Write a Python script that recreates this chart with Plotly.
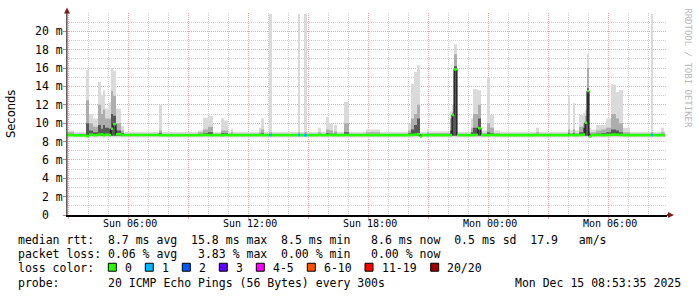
import plotly.graph_objects as go

# ---------------- data ----------------
times = [
    "2025-12-14 02:56", "2025-12-14 03:17", "2025-12-14 03:53", "2025-12-14 04:02",
    "2025-12-14 04:14", "2025-12-14 04:29", "2025-12-14 04:38", "2025-12-14 04:44",
    "2025-12-14 04:50", "2025-12-14 05:02", "2025-12-14 05:08", "2025-12-14 05:14",
    "2025-12-14 05:23", "2025-12-14 05:38", "2025-12-14 05:47", "2025-12-14 07:32",
    "2025-12-14 07:41", "2025-12-14 09:29", "2025-12-14 09:44", "2025-12-14 09:59",
    "2025-12-14 10:14", "2025-12-14 10:38", "2025-12-14 10:47", "2025-12-14 10:59",
    "2025-12-14 11:08", "2025-12-14 11:14", "2025-12-14 12:32", "2025-12-14 12:38",
    "2025-12-14 12:47", "2025-12-14 13:02", "2025-12-14 13:11", "2025-12-14 14:29",
    "2025-12-14 14:35", "2025-12-14 14:47", "2025-12-14 14:56", "2025-12-14 15:29",
    "2025-12-14 15:38", "2025-12-14 15:53", "2025-12-14 16:02", "2025-12-14 16:14",
    "2025-12-14 16:17", "2025-12-14 16:26", "2025-12-14 16:47", "2025-12-14 17:02",
    "2025-12-14 17:53", "2025-12-14 18:35", "2025-12-14 19:59", "2025-12-14 20:08",
    "2025-12-14 20:17", "2025-12-14 20:26", "2025-12-14 20:35", "2025-12-14 20:41",
    "2025-12-14 20:56", "2025-12-14 21:02", "2025-12-14 22:05", "2025-12-14 22:11",
    "2025-12-14 22:17", "2025-12-14 22:26", "2025-12-14 23:08", "2025-12-14 23:14",
    "2025-12-14 23:29", "2025-12-14 23:38", "2025-12-14 23:56", "2025-12-15 00:05",
    "2025-12-15 00:17", "2025-12-15 00:35", "2025-12-15 02:23", "2025-12-15 02:32",
    "2025-12-15 03:59", "2025-12-15 04:05", "2025-12-15 04:14", "2025-12-15 04:20",
    "2025-12-15 04:32", "2025-12-15 04:44", "2025-12-15 04:50", "2025-12-15 04:56",
    "2025-12-15 05:02", "2025-12-15 05:08", "2025-12-15 05:23", "2025-12-15 05:38",
    "2025-12-15 05:53", "2025-12-15 06:08", "2025-12-15 06:23", "2025-12-15 06:32",
    "2025-12-15 06:44", "2025-12-15 07:05", "2025-12-15 08:08", "2025-12-15 08:14",
    "2025-12-15 08:38", "2025-12-15 08:47",
]
end_time = "2025-12-15 08:50"

smoke_max = [
    9.2, 9.0, 15.8, 11.0, 10.5, 14.5, 13.1, 13.6, 11.6, 12.3, 16.0, 15.7,
    11.6, 9.7, 9.0, 12.0, 9.0, 9.2, 10.6, 10.8, 9.0, 10.5, 10.3, 9.0,
    9.4, 9.0, 9.5, 10.5, 9.0, 21.9, 9.0, 21.9, 9.0, 21.9, 9.0, 9.5,
    9.0, 10.7, 10.0, 9.0, 9.8, 9.0, 12.3, 9.0, 9.3, 9.0, 9.9, 14.3,
    15.6, 16.3, 9.0, 9.0, 9.3, 9.1, 11.3, 12.0, 18.6, 9.0, 10.5, 13.7,
    13.6, 9.2, 15.0, 10.9, 9.2, 9.0, 9.5, 9.0, 13.0, 9.2, 12.2, 9.2,
    10.9, 11.1, 11.5, 17.5, 9.5, 9.3, 9.8, 9.8, 10.5, 14.2, 13.4, 13.6,
    9.5, 9.0, 21.9, 9.0, 9.5, 9.1,
]
smoke_mid = [
    9.0, 8.85, 12.5, 10.0, 9.6, 12.0, 11.0, 11.5, 10.5, 10.5, 13.5, 13.0,
    10.0, 9.2, 8.85, 9.2, 8.85, 9.0, 9.3, 9.6, 8.85, 9.2, 9.2, 8.85,
    9.0, 8.85, 9.0, 9.3, 8.85, 9.0, 8.85, 9.0, 8.85, 9.0, 8.85, 9.0,
    8.85, 9.3, 9.2, 8.85, 9.1, 8.85, 10.0, 8.85, 9.0, 8.85, 9.2, 10.5,
    11.0, 12.0, 8.85, 8.85, 9.0, 8.9, 10.5, 11.2, 17.5, 8.85, 9.5, 11.0,
    12.0, 8.9, 10.0, 9.5, 8.9, 8.85, 9.0, 8.85, 9.3, 8.9, 9.3, 8.9,
    9.6, 10.0, 10.8, 16.0, 9.0, 9.0, 9.2, 9.3, 9.5, 11.0, 10.5, 10.0,
    9.0, 8.85, 9.0, 8.85, 9.0, 8.9,
]
smoke_dark = [
    8.8, 8.75, 10.0, 9.2, 9.0, 9.8, 9.4, 9.8, 9.5, 9.4, 11.0, 10.8,
    9.2, 8.9, 8.75, 8.9, 8.75, 8.8, 8.9, 9.0, 8.75, 8.9, 8.9, 8.75,
    8.8, 8.75, 8.8, 8.9, 8.75, 8.8, 8.75, 8.8, 8.75, 8.8, 8.75, 8.8,
    8.75, 8.9, 8.85, 8.75, 8.85, 8.75, 9.0, 8.75, 8.8, 8.75, 8.9, 9.3,
    9.8, 10.5, 8.75, 8.75, 8.8, 8.75, 9.2, 11.0, 16.2, 8.75, 9.0, 9.5,
    10.5, 8.8, 9.0, 8.9, 8.8, 8.75, 8.8, 8.75, 8.9, 8.8, 8.9, 8.8,
    9.0, 9.5, 10.2, 13.8, 8.8, 8.8, 8.85, 8.9, 9.0, 9.3, 9.2, 9.0,
    8.8, 8.75, 8.8, 8.75, 8.8, 8.75,
]
smoke_min = [8.45] * len(times)   # lower edge of the light smoke
smoke_lo = [8.62] * len(times)    # lower edge of the denser smoke
median = [
    8.70, 8.68, 8.60, 8.75, 8.70, 8.75, 8.80, 8.70, 8.75, 8.70, 9.40, 9.90,
    8.80, 8.70, 8.72, 8.70, 8.68, 8.70, 8.72, 8.70, 8.70, 8.68, 8.72, 8.70,
    8.70, 8.70, 8.72, 8.70, 8.70, 8.70, 8.70, 8.70, 8.70, 8.68, 8.70, 8.72,
    8.70, 8.70, 8.72, 8.70, 8.70, 8.70, 8.72, 8.70, 8.70, 8.70, 8.70, 8.72,
    8.75, 8.80, 8.55, 8.70, 8.70, 8.70, 8.70, 10.90, 15.85, 8.70, 8.70, 8.72,
    9.45, 8.70, 8.70, 8.72, 8.70, 8.70, 8.70, 8.70, 8.70, 8.72, 8.70, 8.70,
    8.72, 8.75, 10.06, 13.50, 8.55, 8.70, 8.72, 8.70, 8.72, 8.75, 8.75, 8.72,
    8.70, 8.70, 8.70, 8.70, 8.70, 8.70,
]
loss = [0] * len(times)
for _t in ("2025-12-14 13:02", "2025-12-14 14:29", "2025-12-14 14:47", "2025-12-15 08:08"):
    loss[times.index(_t)] = 1

x_tickvals = ["2025-12-14 03:00", "2025-12-14 06:00", "2025-12-14 09:00", "2025-12-14 12:00",
              "2025-12-14 15:00", "2025-12-14 18:00", "2025-12-14 21:00", "2025-12-15 00:00",
              "2025-12-15 03:00", "2025-12-15 06:00"]
x_ticktext = ["", "Sun 06:00", "", "Sun 12:00", "", "Sun 18:00", "", "Mon 00:00", "", "Mon 06:00"]
y_tickvals = [0, 2, 4, 6, 8, 10, 12, 14, 16, 18, 20]
y_ticktext = ["0  ", "2 m", "4 m", "6 m", "8 m", "10 m", "12 m", "14 m", "16 m", "18 m", "20 m"]

legend_rows = [
    "median rtt:  8.7 ms avg  15.8 ms max  8.5 ms min   8.6 ms now  0.5 ms sd  17.9   am/s",
    "packet loss: 0.06 % avg   3.83 % max  0.00 % min   0.00 % now",
    "loss color:",
    "probe:       20 ICMP Echo Pings (56 Bytes) every 300s",
]
timestamp = "Mon Dec 15 08:53:35 2025"
loss_labels = ["0", "1", "2", "3", "4-5", "6-10", "11-19", "20/20"]
loss_colors = ["#26ff00", "#00b8ff", "#0059ff", "#5e00ff", "#ff00ff", "#ff5500", "#ff0000", "#a10000"]

# ---------------- figure ----------------
W, H = 697, 297
ML, MR, MT, MB = 67, 30, 12.5, 81.5
PW, PH = W - ML - MR, H - MT - MB
MONO = "DejaVu Sans Mono"
FS = 11.5


def PX(px):
    return (px - ML) / PW


def PY(py):
    return (H - MB - py) / PH


xs = times + [end_time]


def ext(v):
    return list(v) + [v[-1]]


fig = go.Figure()

# smoke layers (lower bound trace, then filled upper trace)
for lower, upper, col in ((smoke_min, smoke_max, "#dadada"),
                          (smoke_lo, smoke_mid, "#adadad"),
                          (smoke_lo, smoke_dark, "#585858")):
    fig.add_trace(go.Scatter(x=xs, y=ext(lower), mode="lines", line=dict(width=0, shape="hv"),
                             hoverinfo="skip", showlegend=False))
    fig.add_trace(go.Scatter(x=xs, y=ext(upper), mode="lines", line=dict(width=0, shape="hv"),
                             fill="tonexty", fillcolor=col, hoverinfo="skip", showlegend=False))

# median as black step line
fig.add_trace(go.Scatter(x=xs, y=ext(median), mode="lines", line=dict(width=1, color="#000000", shape="hv"),
                         hoverinfo="skip", showlegend=False))

# median horizontal segments coloured by loss
for lv in (0, 1):
    sx, sy = [], []
    for i in range(len(times)):
        if loss[i] == lv:
            sx += [xs[i], xs[i + 1], None]
            sy += [median[i], median[i], None]
    fig.add_trace(go.Scatter(x=sx, y=sy, mode="lines", line=dict(width=2.6, color=loss_colors[lv]),
                             hoverinfo="skip", showlegend=False, connectgaps=False))

fig.update_layout(
    width=W, height=H, margin=dict(l=ML, r=MR, t=MT, b=MB, pad=0),
    paper_bgcolor="#ffffff", plot_bgcolor="#ffffff", showlegend=False,
    font=dict(family=MONO, size=FS, color="#000000"),
    xaxis=dict(
        type="date", range=["2025-12-14 02:56", "2025-12-15 08:56"],
        tickmode="array", tickvals=x_tickvals, showticklabels=False,
        showgrid=True, gridcolor="#e6a6a6", griddash="1px,1px", gridwidth=1,
        minor=dict(tick0="2025-12-14 03:00", dtick=3600000, showgrid=True,
                   gridcolor="#cfcfcf", griddash="1px,1px", gridwidth=1),
        showline=True, linecolor="#000000", linewidth=1.5,
        ticks="outside", ticklen=2, tickcolor="#e6a6a6",
        zeroline=False, fixedrange=True,
    ),
    yaxis=dict(
        range=[0, 22], tickmode="array", tickvals=y_tickvals, showticklabels=False,
        showgrid=True, gridcolor="#e6a6a6", griddash="1px,1px", gridwidth=1,
        minor=dict(tick0=0, dtick=1, showgrid=True, gridcolor="#cfcfcf", griddash="1px,1px", gridwidth=1),
        showline=True, linecolor="#606060", linewidth=1.2,
        ticks="outside", ticklen=3, tickcolor="#c08080",
        zeroline=False, fixedrange=True,
    ),
)

shapes = []
ax_col = "#7f1f1f"
shapes.append(dict(type="line", xref="paper", yref="paper", x0=PX(67), x1=PX(67), y0=PY(215.5), y1=PY(10),
                   line=dict(color="#606060", width=1.2)))
shapes.append(dict(type="path", xref="paper", yref="paper",
                   path=f"M {PX(64)} {PY(13)} L {PX(70)} {PY(13)} L {PX(67)} {PY(7)} Z",
                   fillcolor=ax_col, line=dict(width=0)))
shapes.append(dict(type="line", xref="paper", yref="paper", x0=PX(667), x1=PX(670), y0=PY(215.5), y1=PY(215.5),
                   line=dict(color="#000000", width=1.5)))
shapes.append(dict(type="path", xref="paper", yref="paper",
                   path=f"M {PX(668)} {PY(212.5)} L {PX(668)} {PY(218.5)} L {PX(674)} {PY(215.5)} Z",
                   fillcolor=ax_col, line=dict(width=0)))

annotations = []


def txt(px, py, s, size=FS, family=MONO, color="#000000", angle=0, xanchor="left"):
    annotations.append(dict(x=PX(px), y=PY(py), xref="paper", yref="paper",
                            text=s.replace(" ", "\u00a0"), showarrow=False,
                            xanchor=xanchor, yanchor="middle", textangle=angle, borderpad=0,
                            font=dict(family=family, size=size, color=color)))


# axis tick labels, placed through the axes' own scales
for v, s in zip(y_tickvals, y_ticktext):
    annotations.append(dict(x=PX(63.5), y=v, xref="paper", yref="y", text=s.replace(" ", "\u00a0"),
                            showarrow=False, xanchor="right", yanchor="middle", borderpad=0,
                            font=dict(family=MONO, size=FS, color="#000000")))
for v, s in zip(x_tickvals, x_ticktext):
    if s:
        annotations.append(dict(x=v, y=PY(224.5), xref="x", yref="paper", text=s.replace(" ", "\u00a0"),
                                showarrow=False, xanchor="center", yanchor="middle", borderpad=0,
                                xshift=1.5, font=dict(family=MONO, size=10, color="#000000")))

rows_y = [241, 255, 268.5, 283.5]
for s, ry in zip(legend_rows, rows_y):
    txt(16.5, ry, s)

sq_x = [108.3, 145.3, 182.3, 219.3, 256.3, 307.3, 365.0, 430.7]
for i, (lab, col) in enumerate(zip(loss_labels, loss_colors)):
    x0 = sq_x[i]
    shapes.append(dict(type="rect", xref="paper", yref="paper", x0=PX(x0), x1=PX(x0 + 8),
                       y0=PY(264), y1=PY(272), fillcolor=col, line=dict(color="#000000", width=1)))
    txt(x0 + 15.5, rows_y[2], lab)

txt(681.5, rows_y[3], timestamp, xanchor="right")

txt(11, 114, "Seconds", size=11.5, family="DejaVu Sans", angle=-90, xanchor="center")
txt(688, 68, "RRDTOOL / TOBI OETIKER", size=9, family=MONO, color="#b8b8b8", angle=90, xanchor="center")

fig.update_layout(shapes=shapes, annotations=annotations)
fig.write_html("out.html")
